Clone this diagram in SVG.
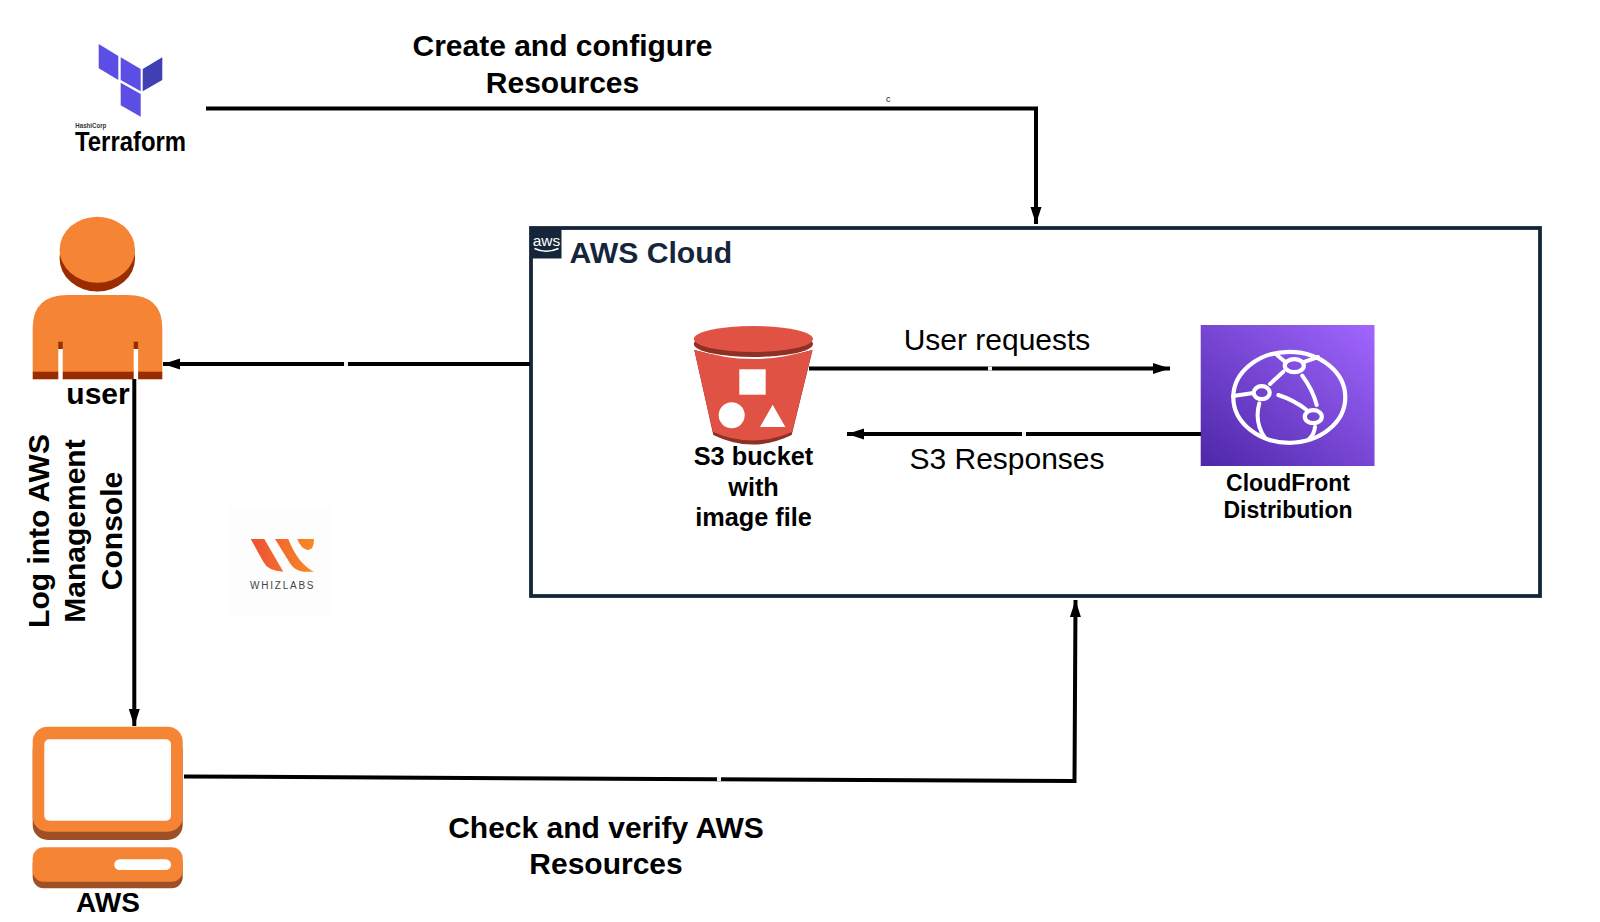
<svg xmlns="http://www.w3.org/2000/svg" width="1600" height="922" viewBox="0 0 1600 922">
<style>
text{font-family:"Liberation Sans",Arial,sans-serif;fill:#000}
.b{font-weight:700;font-size:30px;text-anchor:middle}
.s{font-weight:700;font-size:25.3px;text-anchor:middle}
.c{font-weight:700;font-size:23px;text-anchor:middle}
.r{font-size:30px;text-anchor:middle}
.w{fill:none;stroke:#000;stroke-width:4}
.o{fill:#f58534}
.d{fill:#9d5025}
.g{fill:none;stroke:#fff;stroke-width:4;stroke-linecap:round}
.n{fill:none;stroke:#fff;stroke-width:4.2}
.m{fill:#f4f4f4}
</style>
<defs>
<marker id="a" markerUnits="userSpaceOnUse" markerWidth="18" markerHeight="14" refX="17" refY="7" orient="auto"><path d="M0 1.5L17 7L0 12.5Z" fill="#000"/></marker>
<linearGradient id="cf" x1="0" y1="1" x2="1" y2="0"><stop offset="0" stop-color="#4d27a8"/><stop offset="1" stop-color="#a166ff"/></linearGradient>
<linearGradient id="wz" gradientUnits="userSpaceOnUse" x1="250" y1="0" x2="315" y2="0"><stop offset="0" stop-color="#ec4f36"/><stop offset="1" stop-color="#f98a24"/></linearGradient>
</defs>

<g id="terraform">
<polygon points="98.7,44 118.3,56 118.3,80 98.7,68.3" fill="#5c4ee5"/>
<polygon points="120.7,57.3 140.7,69 140.7,91.3 120.7,80" fill="#5c4ee5"/>
<polygon points="142.7,69 162.3,57.3 162.3,80 142.7,91.3" fill="#4040b2"/>
<polygon points="120.7,82.7 140.7,94 140.7,116.7 120.7,105.3" fill="#5c4ee5"/>
<text x="75.3" y="128" font-size="7" font-weight="700" textLength="31" lengthAdjust="spacingAndGlyphs" style="fill:#333">HashiCorp</text>
<text x="75" y="151" font-size="28" font-weight="700" textLength="111" lengthAdjust="spacingAndGlyphs">Terraform</text>
</g>

<g id="user">
<ellipse cx="97.3" cy="258.5" rx="37.7" ry="33" fill="#992c00"/>
<ellipse cx="97.3" cy="249.7" rx="37.7" ry="33" class="o"/>
<path d="M32.7 372V328Q32.7 295 68 295H127Q162.3 295 162.3 328V372Z" class="o"/>
<rect x="32.7" y="371.7" width="129.6" height="7.6" fill="#992c00"/>
<rect x="58.3" y="341.7" width="4.4" height="7.3" fill="#992c00"/>
<rect x="133.7" y="341.7" width="4.4" height="7.3" fill="#992c00"/>
<rect x="58.3" y="349" width="4.4" height="31" fill="#fff"/>
<rect x="133.7" y="349" width="4.4" height="31" fill="#fff"/>
<text class="b" x="98" y="403.5">user</text>
</g>

<g id="computer">
<rect x="32.7" y="735" width="150" height="105" rx="15" fill="#9d5025"/>
<rect x="32.7" y="726.7" width="150" height="105" rx="15" class="o"/>
<rect x="44.3" y="739.3" width="126.7" height="81.4" rx="5" fill="#fff"/>
<rect x="32.7" y="853" width="150" height="35.3" rx="11" fill="#9d5025"/>
<rect x="32.7" y="847.3" width="150" height="34.4" rx="11" class="o"/>
<rect x="114.3" y="859.3" width="56.7" height="10.7" rx="5.3" fill="#fff"/>
<text class="b" x="108" y="912" style="font-size:28px">AWS</text>
</g>

<g id="whizlabs">
<rect x="228" y="508" width="104" height="108" fill="#fdfdfd"/>
<path d="M250.7 539L263.3 561.7Q268 571 283.3 571.7L264.3 539Z" fill="url(#wz)"/>
<path d="M275 539H288.3Q298 564 314 571.7H303.3Q295 571 290 563.3Z" fill="url(#wz)"/>
<path d="M297.3 539H314Q314 550 308 550Q301 549 297.3 539Z" fill="url(#wz)"/>
<text x="250" y="588.5" font-size="10" style="fill:#444;letter-spacing:1.5px" textLength="65">WHIZLABS</text>
</g>

<g id="aws-cloud">
<rect x="531" y="228" width="1009" height="368" fill="none" stroke="#16263a" stroke-width="3.8"/>
<rect x="530" y="227" width="31.5" height="31.5" fill="#16263a"/>
<text x="546.5" y="246" font-size="15.5" text-anchor="middle" style="fill:#fff">aws</text>
<path d="M534.5 248.5Q546 254 558.5 248.5" fill="none" stroke="#fff" stroke-width="1.6"/>
<text x="569.5" y="262.5" font-size="30.2" font-weight="700" style="fill:#16263a">AWS Cloud</text>
</g>

<g id="s3">
<path d="M694.3 350L713.3 435Q752 454 791.7 435L812.5 350Q753 366 694.3 350Z" fill="#8c3123"/>
<path d="M694.3 350L713 432Q752 449 792 432L812.5 350Q753 366 694.3 350Z" fill="#e05243"/>
<path d="M694.3 348Q753 368 812.5 348" fill="none" stroke="#fff" stroke-width="2"/>
<ellipse cx="753.4" cy="344" rx="59.6" ry="13" fill="#8c3123"/>
<ellipse cx="753.4" cy="339" rx="59.6" ry="13" fill="#e05243"/>
<rect x="739.3" y="369.3" width="26.4" height="25.4" fill="#fff"/>
<circle cx="731.7" cy="415.3" r="13" fill="#fff"/>
<polygon points="772.7,404.7 785.3,427 760,427" fill="#fff"/>
<text class="s" x="753.5" y="465">S3 bucket</text>
<text class="s" x="753.5" y="496">with</text>
<text class="s" x="753.5" y="526">image file</text>
</g>

<g id="cloudfront">
<rect x="1200.7" y="325" width="173.8" height="141" fill="url(#cf)"/>
<ellipse cx="1289.3" cy="397.3" rx="56" ry="45.5" class="n"/>
<ellipse cx="1294.3" cy="365.7" rx="9.5" ry="6.5" class="n"/>
<ellipse cx="1261.7" cy="392.7" rx="8" ry="6.5" class="n"/>
<ellipse cx="1313.3" cy="416.7" rx="8.5" ry="6.5" class="n"/>
<path d="M1270 384L1283.3 371.7M1302.3 375.7Q1313 390 1316.7 405M1278.3 395Q1294 400 1306.7 410M1233 396L1251.7 393.3M1259.3 403.3Q1254 422 1265 438M1315 427Q1314 435 1309 439M1277 355L1285 361.7M1305 361.7L1318 357" class="g"/>
<text class="c" x="1288" y="491">CloudFront</text>
<text class="c" x="1288" y="518">Distribution</text>
</g>

<g id="connectors">
<path class="w" d="M206 108.5H1036V224" marker-end="url(#a)"/>
<path class="w" d="M530 364H163" marker-end="url(#a)"/>
<path class="w" d="M809 368.5H1170" marker-end="url(#a)"/>
<path class="w" d="M1201 434H847" marker-end="url(#a)"/>
<path class="w" d="M134.3 379V726" marker-end="url(#a)"/>
<path class="w" d="M184 776.5L1074.5 781L1075.5 600" marker-end="url(#a)"/>
<rect class="m" x="344" y="362" width="4" height="4"/>
<rect class="m" x="988" y="366.5" width="4" height="4"/>
<rect class="m" x="1022" y="432" width="4" height="4"/>
<rect class="m" x="717" y="777" width="4" height="4"/>
</g>

<g id="labels">
<text x="888.3" y="101.5" font-size="9" text-anchor="middle" style="fill:#222">c</text>
<text class="b" x="562.5" y="56.3">Create and configure</text>
<text class="b" x="562.5" y="93">Resources</text>
<text class="r" x="997" y="349.5">User requests</text>
<text class="r" x="1007" y="469">S3 Responses</text>
<text class="b" x="606" y="837.5">Check and verify AWS</text>
<text class="b" x="606" y="873.5">Resources</text>
<text class="b" transform="translate(49 531) rotate(-90)">Log into AWS</text>
<text class="b" transform="translate(85 531) rotate(-90)">Management</text>
<text class="b" transform="translate(121.5 531) rotate(-90)">Console</text>
</g>
</svg>
